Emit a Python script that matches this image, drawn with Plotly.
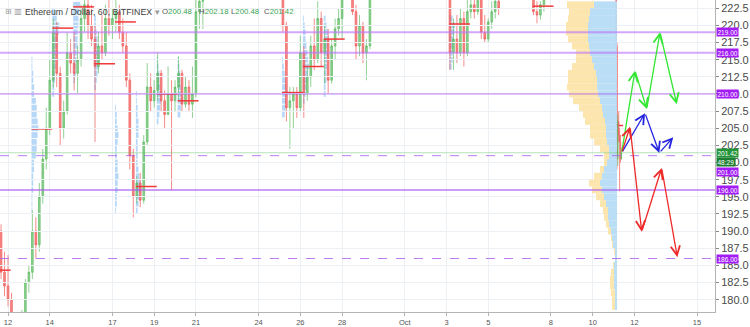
import pandas as pd
import plotly.graph_objects as go

# ---------------- data ----------------
# 4-hour candles, segment A (start 2018-09-11 16:00)
segA_start = "2018-09-11 16:00"
segA = [
    (190,191,183,184),(184,187,180.5,182),(182,186.5,179,180),(180,181,176,177),
    (177,178,172,174),(174,177,170,176),(176,178.5,174,178),(178,183,177,182.5),
    (182.5,185,181,184),(184,193,183,190),(190,192,186,188),(188,197,187,195),
    (195,202,194,200.5),(200.5,208,199,205),(205,215,204,212),(212,221,211,219),
    (219,220.5,211,213),(213,214,202.5,205),(205,209,203.5,207.5),(207.5,219,207,216),
    (216,218,213,214.5),(214.5,219,210.5,213),(213,217,210,215),(215,223,214,221),
    (221,224.5,219,223),(223,225,218,220),(220,223,217,218),(218,220,203,214),
    (214,219,213,217),(217,221.5,215,216),(216,223,215.5,221),(221,224.5,218.5,220),
    (220,222.5,218,221),(221,224,219,222),(222,223,218,219),(219,221,216,217),
    (217,219,211,212),(212,213,199,201),(201,202,192,195),(195,198,194,197),
    (197,198.5,193.5,194.5),(194.5,204,194,203),(203,214.5,202.5,211),(211,213,207.5,209),
    (209,212,208,210.5),(210.5,216,209,213),(213,213.5,207.5,209),(209,210.5,205,207),
    (207,214,207,210),(210,212,196,209),(209,212,207.5,211),(211,215.5,209,213),
    (213,213.5,207.5,208.5),(208.5,212.5,208,211),(211,212,207.5,208.5),(208.5,214,206.5,210),
    (210,224.5,209.5,222),(222,225,219.5,223.5),(223.5,226,219.5,224),
]
segB_start = "2018-09-25 00:00"
segB = [
    (227,228,224,225),(225,225.5,219,220),(220,220.5,206,208),(208,211,202,209),
    (209,211,205,210),(210,211,206.5,208),(208,218.5,207.5,216),(216,217,206.5,210),
    (210,214,209,212.5),(212.5,218.5,211,217),(217,221,213.5,215),(215,223.5,214.5,221),
    (221,222,214,216),(216,220,211.5,218),(218,219.5,210,212),(212,218,211.5,217),
    (217,221,215,219.5),(219.5,222.5,218.5,221),(221,225,218,224),(224,227,223.8,226),
    (226,227,224,225),(225,226,221.5,222),(222,223,215,217),(217,221.5,215.5,220),
    (220,220.5,214.5,216),(216,218,212,217),(217,225,216.5,224),
]
segC_start = "2018-10-03 04:00"
segC = [
    (225,226,213.5,216),(216,221,213.5,218),(218,221.5,214.5,216),(216,222.5,215.5,221),
    (221,222,214,216),(216,224,215.5,222),(222,225,221,223),(223,224.5,221,222),
    (222,225,221.5,224),(224,225,218,219),(219,221.5,217.5,218),(218,221,217.5,220.5),
    (220.5,223.5,219.5,222),(222,224.5,221,223.5),(223.5,225,221.5,222.5),
]
segD_start = "2018-10-07 04:00"
segD = [(224,224.5,221.5,222),(222,223.5,220.3,221.5),(221.5,223.5,220.8,223),(223,224.5,222,224)]
# hourly candles of the drop, 2018-10-11 03:00 onward
segE_start = "2018-10-11 03:00"
segE = [(225,226,216,217),(217,217.5,199,200.5),(200.5,207,199.5,206),(206,207.5,203,204),
        (204,205,195.8,203),(203,204,200,200.5),(200.48,202.18,200.48,201.42)]

# visible-range volume profile (1.0 price bins)
vp_price = [223,222,221,220,219,218,217,216,215,214,213,212,211,210,209,208,207,206,205,204,
            203,202,201,200,199,198,197,196,195,194,193,192,191,190,189,188,187,186,185,184,
            183,182,181,180,179]
vp_up = [23,27,28,29,29,29,28,27,25,23,21,20,20,19,17,15,14,12,11,11,
         10,8,8,10,13,15,17,15,13,11,9,9,8,6,5,4,2,2,3,3,
         3,3,2,2,2]
vp_down = [27,21,21,22,22,20,17,14,16,22,28,29,30,29,27,23,20,20,16,16,
           13,9,5,3,4,8,11,10,8,6,5,4,3,3,1,1,1,0,1,3,
           4,4,4,3,3]
vp_anchor_px = 617

# session volume profiles (start, price bins, width in hours)
sp_start = ["2018-09-13 03:00","2018-09-14 03:00","2018-09-15 03:00","2018-09-16 03:00",
            "2018-09-17 03:00","2018-09-18 03:00","2018-09-19 03:00","2018-09-20 03:00",
            "2018-09-25 03:00","2018-09-26 03:00","2018-09-27 03:00","2018-10-03 03:00"]
sp_prices = [
    list(range(193,216)), list(range(210,223)), list(range(212,224)), list(range(211,222)),
    list(range(193,209)), list(range(193,211)), list(range(206,216)), list(range(207,216)),
    list(range(207,216)), list(range(209,222)), list(range(210,222)), list(range(214,222)),
]
sp_hours = [
    [1,1,1,2,2,2,3,3,5,6,6,7,8,7,6,6,5,3,3,2,2,1,1],
    [2,2,3,3,4,4,5,5,6,7,8,5,3],
    [2,3,3,4,4,5,5,5,6,6,7,8],
    [2,3,4,5,6,5,4,4,3,2,2],
    [1,2,2,3,3,4,3,3,2,2,3,4,3,2,2,1],
    [2,3,4,6,5,4,3,2,2,2,2,3,3,3,2,2,1,1],
    [2,3,4,5,6,4,3,3,2,1],
    [3,4,6,5,4,3,3,2,1],
    [3,4,5,6,5,4,3,2,1],
    [2,3,4,5,6,7,6,5,4,3,3,2,1],
    [2,2,3,3,4,4,5,5,6,5,3,2],
    [3,4,4,5,5,6,7,4],
]

# session POC lines
poc_start = ["2018-09-11 03:00","2018-09-13 03:00","2018-09-14 03:00","2018-09-15 03:00",
             "2018-09-16 03:00","2018-09-17 03:00","2018-09-18 03:00","2018-09-19 03:00",
             "2018-09-20 03:00","2018-09-25 03:00","2018-09-26 03:00","2018-09-27 03:00",
             "2018-10-03 03:00","2018-10-07 03:00","2018-10-11 02:00"]
poc_price = [184.3,204.9,219.6,222.7,214.4,220.5,196.5,210.0,209.0,210.2,214.0,218.0,220.2,222.8,205.4]
poc_hours = [24,24,24,24,24,24,24,24,24,24,24,24,24,24,9]

# horizontal levels
solid_levels = [219, 216, 210, 196]
solid_widths = [2, 2, 1, 1.5]
dashed_levels = [201, 186]
last_price = 201.42

# forecast drawings (time, price)
green_t = ["2018-10-11 09:20","2018-10-12 00:40","2018-10-12 14:10","2018-10-13 05:25","2018-10-14 00:40"]
green_p = [201.4, 213.4, 207.8, 219.0, 208.5]
blue_t = ["2018-10-11 09:20","2018-10-12 12:10","2018-10-13 04:40","2018-10-13 20:40"]
blue_p = [201.4, 207.2, 201.4, 203.7]
red_t = ["2018-10-11 09:20","2018-10-11 19:00","2018-10-12 08:25","2018-10-13 07:20","2018-10-14 01:20"]
red_p = [201.4, 205.2, 189.9, 199.2, 186.2]

tick_dates = ["2018-09-12","2018-09-14","2018-09-17","2018-09-19","2018-09-21","2018-09-24",
              "2018-09-26","2018-09-28","2018-10-01","2018-10-03","2018-10-05","2018-10-08",
              "2018-10-10","2018-10-12","2018-10-15"]
tick_text = ["12","14","17","19","21","24","26","28","Oct","3","5","8","10","12","15"]

# ---------------- figure ----------------
FONT = "Liberation Sans, Arial, sans-serif"
fig = go.Figure()

# session profiles
sb_y, sb_x, sb_base = [], [], []
for s, pr, hr in zip(sp_start, sp_prices, sp_hours):
    for p, h in zip(pr, hr):
        sb_y.append(p); sb_x.append(h * 3600000); sb_base.append(s)
fig.add_trace(go.Bar(y=sb_y, x=sb_x, base=sb_base, orientation="h", width=0.85,
                     marker=dict(color="rgba(110,175,240,0.5)", line=dict(width=0)),
                     showlegend=False, hoverinfo="skip"))

inc = "rgba(86,185,90,0.65)"
dec = "rgba(240,90,88,0.7)"
for start, seg, freq, xa in [(segA_start, segA, "4h", "x"), (segB_start, segB, "4h", "x"),
                             (segC_start, segC, "4h", "x"), (segD_start, segD, "4h", "x"),
                             (segE_start, segE, "1h", "x3")]:
    t = pd.date_range(start, periods=len(seg), freq=freq)
    fig.add_trace(go.Candlestick(
        x=t, open=[c[0] for c in seg], high=[c[1] for c in seg],
        low=[c[2] for c in seg], close=[c[3] for c in seg], xaxis=xa, yaxis="y",
        increasing=dict(line=dict(color=inc, width=1), fillcolor=inc),
        decreasing=dict(line=dict(color=dec, width=1), fillcolor=dec),
        whiskerwidth=0, showlegend=False, hoverinfo="skip"))

# POC lines
px_, py_ = [], []
for s, p, h in zip(poc_start, poc_price, poc_hours):
    st = pd.Timestamp(s)
    px_ += [st, st + pd.Timedelta(hours=h), None]
    py_ += [p, p, None]
fig.add_trace(go.Scatter(x=px_, y=py_, mode="lines", line=dict(color="#f03a3a", width=1.5),
                         showlegend=False, hoverinfo="skip"))

# visible range volume profile
fig.add_trace(go.Bar(y=vp_price, x=vp_up, orientation="h", width=1.0, xaxis="x2", yaxis="y",
                     marker=dict(color="rgba(182,220,246,0.95)", line=dict(width=0)),
                     showlegend=False, hoverinfo="skip"))
fig.add_trace(go.Bar(y=vp_price, x=vp_down, base=vp_up, orientation="h", width=1.0,
                     xaxis="x2", yaxis="y",
                     marker=dict(color="rgba(253,226,165,0.9)", line=dict(width=0)),
                     showlegend=False, hoverinfo="skip"))

shapes = []
for lv, w in zip(solid_levels, solid_widths):
    col = "rgba(190,120,250,0.65)" if w >= 2 else "rgba(170,90,240,0.8)"
    shapes.append(dict(type="line", xref="paper", x0=0, x1=1, yref="y", y0=lv, y1=lv,
                       line=dict(color=col, width=w)))
for lv in dashed_levels:
    shapes.append(dict(type="line", xref="paper", x0=0, x1=1, yref="y", y0=lv, y1=lv,
                       line=dict(color="rgba(170,90,240,0.8)", width=1, dash="dash")))
shapes.append(dict(type="line", xref="paper", x0=0, x1=1, yref="y", y0=last_price, y1=last_price,
                   line=dict(color="rgba(90,190,90,0.45)", width=1)))

ann = []
for tt, pp, col in [(green_t, green_p, "#33e633"), (blue_t, blue_p, "#2424e0"), (red_t, red_p, "#ee2a2a")]:
    for i in range(1, len(tt)):
        ann.append(dict(x=tt[i], y=pp[i], ax=tt[i-1], ay=pp[i-1], xref="x", yref="y",
                        axref="x", ayref="y", text="", showarrow=True, arrowhead=5,
                        arrowsize=1.4, arrowwidth=1.3, arrowcolor=col, standoff=0))

PURPLE = "#a21cf5"
def tag(y, txt, bg, shift=0):
    return dict(xref="paper", x=1, xanchor="left", xshift=1, yref="y", y=y, yshift=shift,
                text=txt, showarrow=False, bgcolor=bg, borderpad=0.5,
                font=dict(family=FONT, size=6.5, color="white"))
for lv in [219, 216, 210, 196, 186]:
    ann.append(tag(lv, f"{lv:.2f}", PURPLE))
ann.append(tag(last_price, f"{last_price:.2f}", "#23943a"))
ann.append(tag(last_price, "48:29", "#1d7f31", -9))
ann.append(tag(201, "201.00", PURPLE, -16))

# header
ann.append(dict(xref="paper", yref="paper", x=3/715, y=1-5/314, xanchor="left", yanchor="top",
                showarrow=False, text="⊞ ▥", font=dict(family="DejaVu Sans", size=8, color="#9a9a9a")))
ann.append(dict(xref="paper", yref="paper", x=23/715, y=1-5/314, xanchor="left", yanchor="top",
                showarrow=False, text="Ethereum / Dollar, 60, BITFINEX <span style='color:#999'>▾</span>",
                font=dict(family=FONT, size=8.8, color="#3d3d3d")))
for lab, val, xp in [("O", "200.48", 160), ("H", "202.18", 197), ("L", "200.48", 229), ("C", "201.42", 262)]:
    ann.append(dict(xref="paper", yref="paper", x=xp/715, y=1-5/314, xanchor="left", yanchor="top",
                    showarrow=False, text=f"<span style='color:#555'>{lab}</span>{val}",
                    font=dict(family=FONT, size=7.8, color="#3aa452")))

x0 = pd.Timestamp("2018-09-12") - pd.Timedelta(days=8/20.88)
x1 = pd.Timestamp("2018-09-12") + pd.Timedelta(days=707/20.88)

fig.update_layout(
    width=750, height=327, margin=dict(l=0, r=35, t=0, b=13),
    paper_bgcolor="white", plot_bgcolor="rgba(0,0,0,0)", barmode="overlay",
    shapes=shapes, annotations=ann, showlegend=False,
    xaxis=dict(type="date", range=[x0, x1], tickvals=tick_dates, ticktext=tick_text,
               showgrid=True, gridcolor="#edf1f6", gridwidth=1, zeroline=False,
               showline=True, linecolor="#b4b4b4", ticks="outside", ticklen=3, tickcolor="#b4b4b4",
               tickfont=dict(family=FONT, size=7.5, color="#555"), rangeslider=dict(visible=False)),
    xaxis2=dict(domain=[0, vp_anchor_px/715], anchor="y", range=[vp_anchor_px, 0], visible=False,
                showgrid=False),
    xaxis3=dict(type="date", overlaying="x", range=[x0, x1], visible=False, showgrid=False,
                rangeslider=dict(visible=False)),
    yaxis=dict(side="right", range=[178.2, 223.7], dtick=2.5, tick0=180, tickformat=".1f",
               showgrid=True, gridcolor="#edf1f6", zeroline=False, showline=True, linecolor="#b4b4b4",
               ticks="outside", ticklen=3, tickcolor="#888",
               tickfont=dict(family=FONT, size=11, color="#4a4a4a")),
)
fig.write_html("out.html")
